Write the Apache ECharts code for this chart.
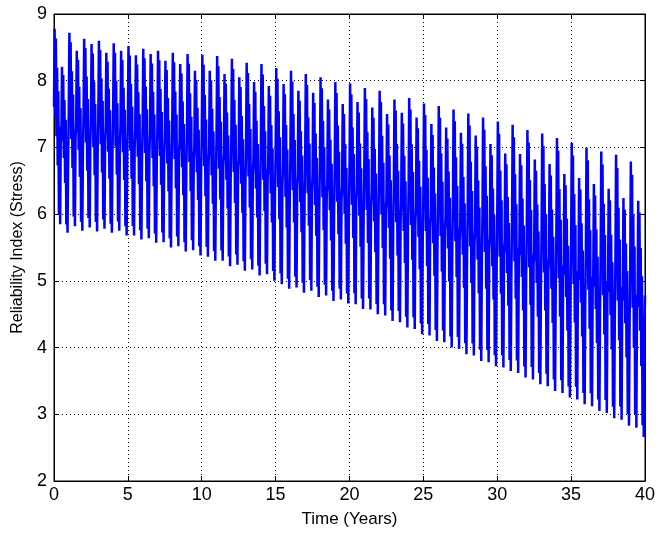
<!DOCTYPE html>
<html>
<head>
<meta charset="utf-8">
<script src="https://cdn.jsdelivr.net/npm/echarts@6/dist/echarts.min.js"></script>
<style>
html,body{margin:0;padding:0;background:#fff;}
#chart{width:658px;height:534px;}
</style>
</head>
<body>
<div id="chart"></div>
<script>
// Half-year cycle peaks (upper spikes)
const cyclePeaks = [
  8.78, 8.21, 8.72, 8.45, 8.63, 8.55, 8.60, 8.42, 8.56, 8.45,
  8.52, 8.38, 8.48, 8.40, 8.45, 8.30, 8.42, 8.25, 8.40, 8.15,
  8.39, 8.15, 8.37, 8.10, 8.33, 8.05, 8.27, 7.98, 8.25, 7.92,
  8.19, 7.95, 8.15, 7.85, 8.10, 7.82, 8.05, 7.72, 7.98, 7.65,
  7.96, 7.68, 7.89, 7.60, 7.85, 7.50, 7.72, 7.52, 7.74, 7.45,
  7.66, 7.35, 7.62, 7.30, 7.57, 7.22, 7.51, 7.18, 7.45, 7.05,
  7.39, 6.91, 7.34, 6.90, 7.26, 6.82, 7.21, 6.75, 7.14, 6.60,
  7.07, 6.54, 7.00, 6.45, 6.94, 6.38, 6.89, 6.24, 6.79, 6.20
];
// Half-year cycle troughs (lower spikes)
const cycleTroughs = [
  5.85, 5.72, 5.82, 5.75, 5.80, 5.74, 5.78, 5.72, 5.75, 5.68,
  5.68, 5.62, 5.64, 5.57, 5.58, 5.50, 5.52, 5.44, 5.46, 5.38,
  5.36, 5.30, 5.30, 5.22, 5.24, 5.15, 5.17, 5.08, 5.10, 5.00,
  4.95, 4.88, 4.90, 4.82, 4.85, 4.76, 4.78, 4.70, 4.72, 4.66,
  4.65, 4.58, 4.57, 4.50, 4.48, 4.40, 4.38, 4.30, 4.28, 4.20,
  4.18, 4.10, 4.08, 4.00, 3.98, 3.90, 3.88, 3.80, 3.78, 3.72,
  3.70, 3.65, 3.62, 3.55, 3.52, 3.45, 3.42, 3.35, 3.32, 3.25,
  3.22, 3.15, 3.12, 3.05, 3.02, 2.94, 2.92, 2.83, 2.80, 2.66
];
// Shape of one cycle: position of each sample between the cycle's trough (0) and peak (1)
const cycleShape = [0.6, 1.0, 0.55, 0.95, 0.45, 0.8, 0.3, 0.68, 0.05, 0.5, 0.0, 0.45];
const cycleLength = 0.5; // years
const xTicks = [0, 5, 10, 15, 20, 25, 30, 35, 40];
const yTicks = [2, 3, 4, 5, 6, 7, 8, 9];

const data = [];
for (let c = 0; c < cyclePeaks.length; c++) {
  const P = cyclePeaks[c], T = cycleTroughs[c];
  for (let k = 0; k < cycleShape.length; k++) {
    const t = c * cycleLength + k * cycleLength / cycleShape.length;
    data.push([t, T + cycleShape[k] * (P - T)]);
  }
}
const lastP = cyclePeaks[cyclePeaks.length - 1], lastT = cycleTroughs[cycleTroughs.length - 1];
data.push([40, lastT + 0.6 * (lastP - lastT)]);

const fam = "'Liberation Sans', Arial, sans-serif";
const lbl = {color: '#000', fontFamily: fam, fontSize: 18};
const gridDots = {show: true, lineStyle: {color: '#000', type: [1, 3], width: 1}};

const chart = echarts.init(document.getElementById('chart'), null, {renderer: 'canvas'});
chart.setOption({
  animation: false,
  backgroundColor: '#fff',
  grid: {left: 54, right: 9, top: 14, bottom: 53, show: true, borderColor: '#000', borderWidth: 1, containLabel: false},
  xAxis: [{
    type: 'value', min: 0, max: 40, interval: 5, position: 'bottom',
    name: 'Time (Years)', nameLocation: 'middle', nameGap: 30,
    nameTextStyle: {color: '#000', fontFamily: fam, fontSize: 17},
    axisLine: {show: true, onZero: false, lineStyle: {color: '#000', width: 1}},
    axisTick: {show: true, inside: true, length: 5, lineStyle: {color: '#000'}},
    axisLabel: Object.assign({margin: 5, formatter: v => xTicks.includes(v) ? String(v) : ''}, lbl),
    splitLine: gridDots
  }, {
    type: 'value', min: 0, max: 40, interval: 5, position: 'top',
    axisLine: {show: true, onZero: false, lineStyle: {color: '#000', width: 1}},
    axisTick: {show: true, inside: true, length: 5, lineStyle: {color: '#000'}},
    axisLabel: {show: false}, splitLine: {show: false}
  }],
  yAxis: [{
    type: 'value', min: 2, max: 9, interval: 1, position: 'left',
    name: 'Reliability Index (Stress)', nameLocation: 'middle', nameGap: 26, nameRotate: 90,
    nameTextStyle: {color: '#000', fontFamily: fam, fontSize: 16},
    axisLine: {show: true, onZero: false, lineStyle: {color: '#000', width: 1}},
    axisTick: {show: true, inside: true, length: 5, lineStyle: {color: '#000'}},
    axisLabel: Object.assign({margin: 7, formatter: v => yTicks.includes(v) ? String(v) : ''}, lbl),
    splitLine: gridDots
  }, {
    type: 'value', min: 2, max: 9, interval: 1, position: 'right',
    axisLine: {show: true, onZero: false, lineStyle: {color: '#000', width: 1}},
    axisTick: {show: true, inside: true, length: 5, lineStyle: {color: '#000'}},
    axisLabel: {show: false}, splitLine: {show: false}
  }],
  series: [{
    type: 'line', data: data, xAxisIndex: 0, yAxisIndex: 0,
    showSymbol: false, symbol: 'none', sampling: null,
    lineStyle: {color: '#0000ff', width: 2.5},
    z: 3
  }]
});
</script>
</body>
</html>
